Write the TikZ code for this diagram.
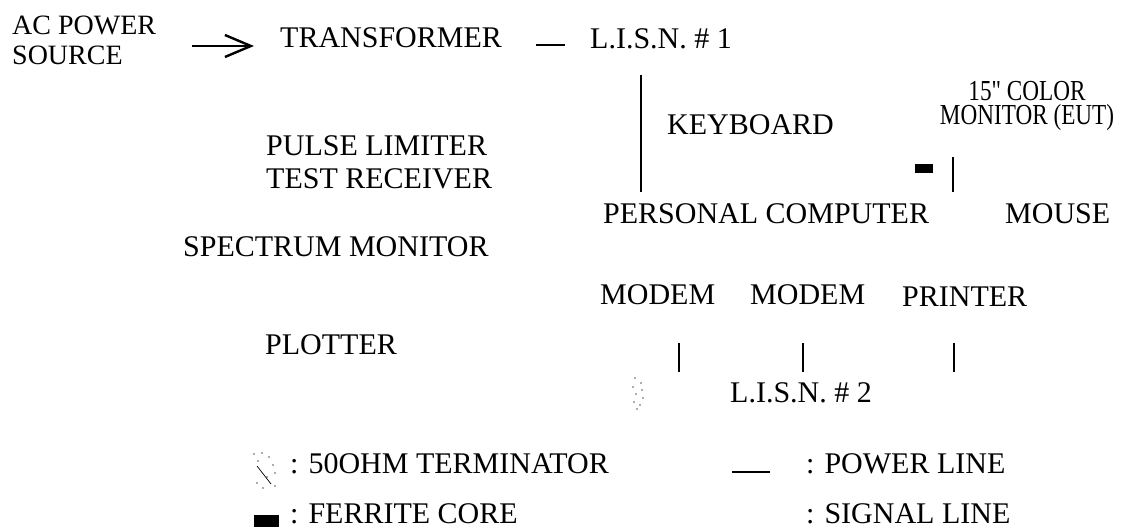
\documentclass[tikz,border=0pt]{standalone}
\usepackage{fontspec}
\setmainfont{Liberation Serif}
\newfontfamily\condfont{Liberation Serif}[FakeStretch=0.8,Ligatures=ResetAll]
\usetikzlibrary{arrows.meta}
\begin{document}
\begin{tikzpicture}[x=1pt,y=-1pt,
  lbl/.style={anchor=base west,inner sep=0pt,font=\fontsize{30}{30}\selectfont},
  wire/.style={line width=2.5pt},
  ferrite/.style={fill=black,draw=none},
  speck/.style={fill=black!65,draw=none}]
\useasboundingbox (0,0) rectangle (1140,529);
% top row
\node[lbl,font=\fontsize{28}{28}\selectfont] (ac) at (12,35) {AC POWER};
\node[lbl,font=\fontsize{28}{28}\selectfont] (src) at (12,65) {SOURCE};
\coordinate (a1) at (192,46);
\coordinate (a2) at (254,46);
\draw[line width=2.4pt,-{Straight Barb[length=26pt,width=22pt,line width=2.4pt]}] (a1) -- (a2);
\node[lbl] (tr) at (280,48) {TRANSFORMER};
\coordinate (d1) at (536,45);
\coordinate (d2) at (565,45);
\draw[line width=2.6pt] (d1) -- (d2);
\node[lbl] (lisn1) at (590,49) {L.I.S.N. \# 1};
% left column
\node[lbl] (pl) at (266,156) {PULSE LIMITER};
\node[lbl] (tx) at (266,189) {TEST RECEIVER};
\node[lbl] (sm) at (183,257) {SPECTRUM MONITOR};
\node[lbl] (plot) at (265,354) {PLOTTER};
% middle
\coordinate (k1) at (641,75);
\coordinate (k2) at (641,192);
\draw[wire] (k1) -- (k2);
\node[lbl] (kb) at (667,135) {KEYBOARD};
\node[anchor=base,inner sep=0pt,align=center,text depth=0pt,
      font=\condfont\fontsize{29}{24}\selectfont] (mon) at (1027,125)
      {15" COLOR\\MONITOR (EUT)};
\path[ferrite] (915,164) rectangle (933,173);
\coordinate (m1) at (953,157);
\coordinate (m2) at (953,192);
\draw[wire] (m1) -- (m2);
\node[lbl] (pc) at (603,224) {PERSONAL COMPUTER};
\node[lbl] (mouse) at (1005,224) {MOUSE};
\node[lbl] (modem1) at (600,305) {MODEM};
\node[lbl] (modem2) at (750,305) {MODEM};
\node[lbl] (prn) at (902,306) {PRINTER};
\foreach \x/\n in {679/p,803/q,954/r}{
  \coordinate (\n1) at (\x,343);
  \coordinate (\n2) at (\x,372);
  \draw[wire] (\n1) -- (\n2);
}
% terminator symbol
\foreach \dx/\dy in {3/0,9/5,1/9,10/12,4/16,11/20,2/24,8/27,5/31}{
  \path[speck] (632+\dx,378+\dy) circle (0.9);
}
\node[lbl] (lisn2) at (730,402) {L.I.S.N. \# 2};
% legend
\foreach \dx/\dy in {1/1,9/0,16/4,5/8,20/12,22/20,14/24,4/30,22/33,10/35}{
  \path[speck] (253+\dx,453+\dy) circle (0.9);
}
\draw[line width=0.7pt] (257,466) -- (271,484);
\node[lbl] (lt) at (290,473) {: 50OHM TERMINATOR};
\path[ferrite] (254,515) rectangle (279,527);
\node[lbl,text depth=0pt] (lf) at (290,523) {: FERRITE CORE};
\coordinate (pw1) at (732,472);
\coordinate (pw2) at (770,472);
\draw[line width=2.2pt] (pw1) -- (pw2);
\node[lbl] (lp) at (806,473) {: POWER LINE};
\node[lbl,text depth=0pt] (ls) at (806,523) {: SIGNAL LINE};
\end{tikzpicture}
\end{document}
